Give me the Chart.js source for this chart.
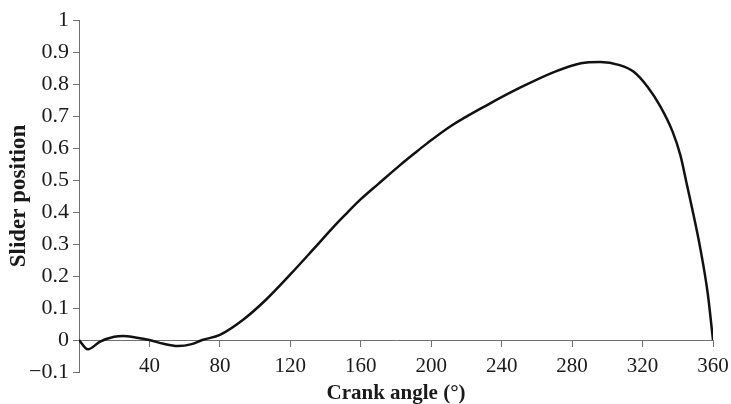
<!DOCTYPE html>
<html>
<head>
<meta charset="utf-8">
<title>Slider position</title>
<script src="https://cdn.jsdelivr.net/npm/chart.js@4/dist/chart.umd.min.js"></script>
<style>
  html, body { margin: 0; padding: 0; background: #fff; }
  canvas { display: block; }
</style>
</head>
<body>
<canvas id="chart" width="731" height="404"></canvas>
<script>
// crank angle (deg) and slider position
var crankAngle = [0, 5, 12, 20, 25, 32, 40, 48, 56, 64, 70, 80, 93, 106, 120, 133, 146, 152,
  160, 170, 182, 190, 198, 211, 232, 251, 270, 285, 296, 307, 315, 323, 330, 337, 341.5, 345,
  348, 353, 357, 360];
var sliderPos = [0, -0.029, -0.005, 0.01, 0.0125, 0.008, 0, -0.012, -0.019, -0.013, 0, 0.016,
  0.0625, 0.125, 0.205, 0.283, 0.362, 0.396, 0.44, 0.488, 0.545, 0.581, 0.616, 0.668, 0.735,
  0.79, 0.838, 0.865, 0.869, 0.859, 0.838, 0.79, 0.731, 0.652, 0.577, 0.49, 0.415, 0.28,
  0.146, 0];

var xTicks = [40, 80, 120, 160, 200, 240, 280, 320, 360];
var yTicks = [-0.1, 0, 0.1, 0.2, 0.3, 0.4, 0.5, 0.6, 0.7, 0.8, 0.9, 1];

var points = crankAngle.map(function (a, i) {
  return { x: a, y: sliderPos[i] };
});

var serif = "'Liberation Serif', 'DejaVu Serif', serif";
var textColor = '#1a1a1a';
var axisColor = '#707070';

new Chart(document.getElementById('chart'), {
  type: 'line',
  data: {
    datasets: [{
      data: points,
      borderColor: '#111',
      borderWidth: 2.5,
      pointRadius: 0,
      fill: false,
      cubicInterpolationMode: 'monotone'
    }]
  },
  options: {
    responsive: false,
    animation: false,
    devicePixelRatio: 1,
    layout: { padding: { top: 20, right: 18, bottom: 32, left: 0 } },
    plugins: { legend: { display: false }, tooltip: { enabled: false } },
    scales: {
      x: {
        type: 'linear',
        position: { y: 0 },
        min: 0,
        max: 360,
        afterBuildTicks: function (s) {
          s.ticks = xTicks.map(function (v) { return { value: v }; });
        },
        ticks: {
          color: textColor,
          font: { family: serif, size: 21, lineHeight: 1.75 },
          padding: 2,
          maxRotation: 0,
          autoSkip: false
        },
        grid: { drawOnChartArea: false, drawTicks: true, tickLength: 6, color: axisColor },
        border: { display: true, color: axisColor, width: 1 },
        title: {
          display: true,
          text: 'Crank angle (°)',
          color: textColor,
          font: { family: serif, size: 21, weight: 'bold' },
          padding: { top: -6, bottom: 0 }
        }
      },
      y: {
        type: 'linear',
        min: -0.1,
        max: 1,
        afterBuildTicks: function (s) {
          s.ticks = yTicks.map(function (v) { return { value: v }; });
        },
        afterFit: function (s) { s.width = 79; },
        ticks: {
          color: textColor,
          font: { family: serif, size: 22 },
          padding: 4,
          callback: function (v) {
            var r = Math.round(v * 10) / 10;
            return r < 0 ? '\u2212' + Math.abs(r) : String(r);
          }
        },
        grid: { drawOnChartArea: false, drawTicks: true, tickLength: 6, color: axisColor },
        border: { display: true, color: axisColor, width: 1 },
        title: {
          display: true,
          text: 'Slider position',
          color: textColor,
          font: { family: serif, size: 23, weight: 'bold' },
          padding: { top: 5, bottom: 0 }
        }
      }
    }
  }
});
</script>
</body>
</html>
